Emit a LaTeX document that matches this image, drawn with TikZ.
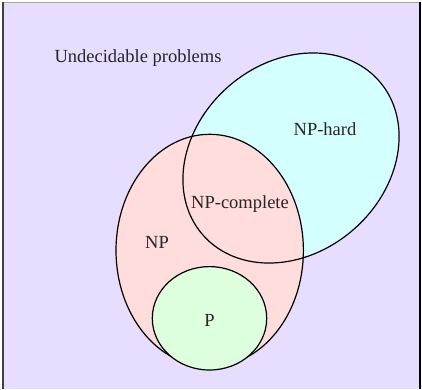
\documentclass[tikz,border=0pt]{standalone}
\usepackage{fontspec}
\setmainfont{Liberation Serif}
\usetikzlibrary{shapes.geometric}
\definecolor{undec}{RGB}{230,221,255}
\definecolor{npfill}{RGB}{255,221,221}
\definecolor{hardfill}{RGB}{212,255,255}
\definecolor{pfill}{RGB}{222,255,222}
\tikzset{
  region/.style={ellipse, inner sep=0pt, outer sep=0pt},
  rim/.style={region, draw=black, line width=1.2pt},
  lbl/.style={inner sep=0pt, font=\fontsize{18.5}{22}\selectfont, text=black!85}
}
\begin{document}
\begin{tikzpicture}[x=1pt,y=-1pt]
\useasboundingbox (0,0) rectangle (422,389);
% universe of problems
\fill[undec] (3,2) rectangle (420,389);
\draw[gray!70, line width=1pt] (3,2) -- (420,2);
\draw[black!75, line width=2.5pt] (3,1.5) -- (3,389);
\draw[black, line width=1.4pt] (420,1.5) -- (420,389);
% fills: NP-hard below NP
\node[region, fill=hardfill, minimum width=234pt, minimum height=190pt, rotate=41] (hard) at (291,158) {};
\node[region, fill=npfill, minimum width=187.4pt, minimum height=232.4pt] (np) at (209.7,250.5) {};
% outlines
\node[rim, minimum width=234pt, minimum height=190pt, rotate=41] (hardrim) at (hard) {};
\node[rim, minimum width=187.4pt, minimum height=232.4pt] (nprim) at (np) {};
\node[rim, fill=pfill, minimum width=114.4pt, minimum height=103.4pt] (p) at (209.5,318.3) {};
% labels
\node[lbl] (tundec) at (138,58) {Undecidable problems};
\node[lbl] (thard) at (325,129) {NP-hard};
\node[lbl] (tcomp) at (240,204) {NP-complete};
\node[lbl] (tnp) at (157,242) {NP};
\node[lbl] (tp) at (209.5,320) {P};
\end{tikzpicture}
\end{document}
